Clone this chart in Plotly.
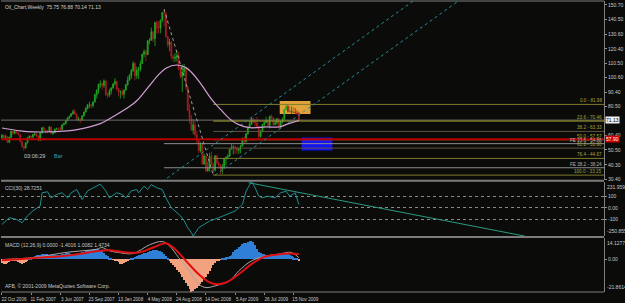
import plotly.graph_objects as go
import pandas as pd

# ---------------- data ----------------
start_week = "2006-10-22"

opens = [58.90, 60.75, 59.14, 59.61, 55.81, 59.24, 63.43, 62.03, 63.43, 62.41,
         61.05, 56.31, 52.99, 51.99, 55.42, 59.02, 59.89, 59.39, 61.14, 61.64,
         60.05, 57.11, 62.28, 65.87, 64.28, 63.63, 63.38, 66.46, 61.93, 62.37,
         64.94, 65.20, 65.08, 64.76, 68.00, 68.62, 70.68, 72.81, 73.93, 75.57,
         77.02, 75.48, 71.47, 71.98, 71.09, 74.04, 76.70, 79.10, 81.62, 81.66,
         81.22, 83.69, 88.60, 91.86, 95.93, 96.32, 95.10, 98.18, 88.71, 88.28,
         91.27, 93.31, 96.00, 97.91, 92.69, 90.57, 90.71, 88.96, 91.77, 95.50,
         98.81, 101.84, 105.15, 110.21, 101.84, 105.62, 106.23, 110.14, 116.69, 118.52,
         116.32, 125.96, 126.29, 132.19, 127.35, 138.54, 134.86, 134.62, 140.21, 145.29,
         145.08, 128.88, 123.26, 125.10, 115.20, 113.77, 114.59, 115.46, 106.23, 101.18,
         104.55, 106.89, 93.88, 77.70, 71.85, 64.15, 67.81, 61.04, 57.04, 49.93,
         54.43, 40.81, 46.28, 36.20, 37.71, 46.34, 40.83, 36.51, 46.47, 41.68,
         40.17, 37.51, 38.94, 44.76, 45.52, 46.25, 51.06, 52.38, 52.51, 52.24,
         50.33, 51.55, 53.20, 58.63, 56.34, 61.67, 66.31, 68.44, 72.04, 69.55,
         69.16, 66.73, 59.89, 63.56, 68.05, 69.45, 70.93, 67.51, 73.89, 72.74,
         68.02, 69.29, 72.04, 66.02, 69.95, 71.77, 78.53, 80.50, 77.00, 77.43,
         76.35, 76.72, 76.05, 75.75]
highs = [61.50, 61.20, 61.00, 60.20, 59.80, 63.90, 63.50, 64.00, 63.80, 62.80,
         61.30, 56.80, 53.30, 55.90, 59.30, 60.80, 60.50, 61.50, 62.30, 62.30,
         60.60, 62.70, 66.40, 66.70, 64.60, 64.30, 66.80, 66.60, 62.90, 65.20,
         66.00, 66.00, 66.30, 68.20, 69.50, 70.90, 73.00, 74.20, 75.90, 78.40,
         78.80, 75.60, 73.50, 72.30, 74.60, 77.00, 80.20, 82.40, 83.90, 82.40,
         84.10, 89.50, 92.20, 96.20, 98.60, 96.60, 99.30, 98.60, 90.30, 92.70,
         93.90, 96.70, 100.10, 98.30, 93.40, 91.60, 92.80, 92.40, 96.20, 101.30,
         103.00, 106.50, 111.80, 111.10, 108.00, 107.90, 112.20, 117.00, 119.90, 119.90,
         126.20, 127.80, 135.10, 132.40, 139.10, 139.90, 139.50, 140.40, 145.90, 147.70,
         145.10, 128.90, 127.40, 125.70, 116.40, 117.50, 119.00, 118.10, 107.80, 109.50,
         110.00, 107.00, 94.40, 82.00, 74.60, 71.80, 71.10, 63.70, 58.30, 55.80,
         55.50, 48.00, 47.00, 42.40, 48.60, 49.30, 41.50, 46.90, 47.40, 42.50,
         40.40, 40.90, 45.00, 46.00, 47.60, 51.50, 54.60, 54.00, 53.60, 52.80,
         51.60, 54.00, 58.90, 59.80, 62.20, 66.50, 70.30, 73.20, 72.80, 71.70,
         73.40, 66.90, 64.20, 68.30, 70.20, 73.40, 71.80, 74.00, 75.00, 73.00,
         71.90, 72.70, 72.20, 70.60, 72.90, 78.80, 81.98, 81.60, 80.80, 80.50,
         80.00, 79.50, 78.00, 76.88]
lows = [57.90, 57.80, 57.90, 55.40, 55.20, 58.80, 61.00, 61.30, 61.70, 60.60,
        55.80, 52.00, 50.00, 51.40, 55.00, 58.40, 57.70, 58.80, 60.30, 59.50,
        56.60, 56.90, 61.80, 63.40, 61.80, 62.20, 63.00, 61.60, 61.00, 62.10,
        64.20, 63.90, 64.20, 64.10, 67.40, 68.20, 70.40, 71.90, 73.30, 74.80,
        74.90, 70.80, 70.60, 69.00, 70.60, 73.60, 76.30, 78.50, 79.30, 79.40,
        79.80, 83.40, 86.00, 89.30, 93.50, 92.20, 93.40, 87.80, 86.20, 87.20,
        88.90, 92.80, 95.10, 91.70, 87.50, 86.10, 88.00, 86.10, 91.50, 94.90,
        98.20, 99.50, 104.60, 98.70, 99.60, 99.60, 104.70, 110.00, 114.40, 111.80,
        116.00, 123.40, 126.00, 125.00, 122.20, 131.00, 130.80, 131.10, 138.70, 135.90,
        127.90, 121.50, 118.70, 113.00, 111.30, 111.30, 111.50, 105.50, 99.90, 90.50,
        101.50, 92.00, 77.40, 68.60, 63.90, 61.30, 59.40, 54.70, 48.30, 48.80,
        40.50, 40.30, 35.10, 35.40, 35.60, 40.00, 33.15, 35.70, 40.70, 37.90,
        33.60, 34.00, 37.50, 40.10, 44.00, 45.70, 50.80, 47.50, 47.80, 47.80,
        47.80, 48.30, 53.10, 55.30, 55.60, 61.20, 65.80, 67.80, 69.20, 66.70,
        66.50, 58.30, 59.10, 62.50, 66.50, 69.30, 67.30, 65.40, 71.50, 67.10,
        67.60, 68.10, 65.20, 65.10, 68.80, 71.40, 78.10, 76.30, 76.30, 75.30,
        75.80, 75.90, 74.90, 70.14]
closes = [60.75, 59.14, 59.61, 55.81, 59.24, 63.43, 62.03, 63.43, 62.41, 61.05,
          56.31, 52.99, 51.99, 55.42, 59.02, 59.89, 59.39, 61.14, 61.64, 60.05,
          57.11, 62.28, 65.87, 64.28, 63.63, 63.38, 66.46, 61.93, 62.37, 64.94,
          65.20, 65.08, 64.76, 68.00, 68.62, 70.68, 72.81, 73.93, 75.57, 77.02,
          75.48, 71.47, 71.98, 71.09, 74.04, 76.70, 79.10, 81.62, 81.66, 81.22,
          83.69, 88.60, 91.86, 95.93, 96.32, 95.10, 98.18, 88.71, 88.28, 91.27,
          93.31, 96.00, 97.91, 92.69, 90.57, 90.71, 88.96, 91.77, 95.50, 98.81,
          101.84, 105.15, 110.21, 101.84, 105.62, 106.23, 110.14, 116.69, 118.52, 116.32,
          125.96, 126.29, 132.19, 127.35, 138.54, 134.86, 134.62, 140.21, 145.29, 145.08,
          128.88, 123.26, 125.10, 115.20, 113.77, 114.59, 115.46, 106.23, 101.18, 104.55,
          106.89, 93.88, 77.70, 71.85, 64.15, 67.81, 61.04, 57.04, 49.93, 54.43,
          40.81, 46.28, 36.20, 37.71, 46.34, 40.83, 36.51, 46.47, 41.68, 40.17,
          37.51, 38.94, 44.76, 45.52, 46.25, 51.06, 52.38, 52.51, 52.24, 50.33,
          51.55, 53.20, 58.63, 56.34, 61.67, 66.31, 68.44, 72.04, 69.55, 69.16,
          66.73, 59.89, 63.56, 68.05, 69.45, 70.93, 67.51, 73.89, 72.74, 68.02,
          69.29, 72.04, 66.02, 69.95, 71.77, 78.53, 80.50, 77.00, 77.43, 76.35,
          76.72, 76.05, 75.47, 71.13]

# moving average (week index -> price)
ma_weeks = [0, 10, 17, 36, 44, 54, 63, 70, 74, 81, 86, 90, 96, 101, 104, 108,
            112, 116, 120, 125, 130, 136, 145, 152, 157, 163]
ma_values = [65.7, 63.7, 63.0, 63.7, 65.3, 68.7, 75.0, 80.5, 84.5, 95.0, 102.5, 107.0,
             109.2, 107.4, 104.2, 98.3, 91.0, 84.0, 78.5, 72.0, 68.0, 65.9, 66.4,
             66.4, 68.5, 70.9]

# CCI(30)
cci_weeks = [0, 4, 8, 11, 14, 17, 21, 22, 25, 27, 30, 33, 36, 38, 41, 44, 47, 54, 57,
             59, 63, 66, 68, 71, 74, 75, 78, 80, 82, 85, 88, 90, 93, 98, 100, 102, 104,
             105, 108, 114, 119, 125, 128, 132, 134, 137, 139, 141, 143, 146, 150, 153,
             156, 158, 161, 163]
cci_values = [-148, -88, -103, -133, -71, -27, 18, 133, 142, 88, 118, 133, 88, 133, 162,
              73, 150, 210, 150, 88, 133, 118, 88, 150, 162, 133, 192, 162, 206, 177,
              162, 88, 0, -71, -115, -177, -221, -250.855, -177, -118, -88, -44, -29,
              29, 147, 231.959, 177, 103, 88, 103, 88, 133, 147, 103, 133, 28.73]
cci_trend_weeks = [135.5, 287.0]
cci_trend_values = [222.0, -250.855]

# MACD histogram (one value per week)
macd_hist = [-2.5, -3.0, -3.3, -2.8, -2.0,
             -1.5, -1.0, -1.2, -1.5,
             -2.0, -2.5, -3.0, -2.6, -1.8, -0.8,
             0.3, 0.8,
             1.5, 2.0, 2.5, 2.8, 3.0, 3.2, 3.3, 3.4, 3.3, 3.0, 2.8, 2.6, 2.5,
             2.6, 2.8, 3.0, 3.3, 3.6, 3.8, 4.0, 3.8, 3.6, 3.4, 3.2,
             3.5, 3.8, 4.2, 4.6,
             5.0, 5.4, 5.8, 6.0, 6.3, 6.5, 6.6, 6.7, 6.5, 6.0, 5.2,
             4.2, 3.0, 2.0,
             1.0, 0.3, -0.5, -1.0,
             -1.5, -2.2, -3.0, -3.3, -2.8, -2.0, -1.0,
             -0.3, 0.5, 1.0,
             1.5, 2.0, 2.5, 3.0, 3.5, 4.0, 4.4, 4.8, 5.2, 5.5, 5.8, 6.0, 6.0, 5.7, 5.2, 4.5, 3.5, 2.0,
             0.5, -1.0,
             -2.5, -4.0, -5.5, -7.0, -8.5, -10.0, -12.0, -14.0, -16.0, -18.0, -20.0, -21.86,
             -21.0, -20.0, -19.0, -18.0, -16.5, -15.0, -13.5, -12.0, -10.0, -8.0, -6.0, -4.0,
             -2.5, -1.5, -0.8, -0.5, 0.3,
             0.8, 1.2, 1.5, 2.0, 3.0,
             4.5, 6.0, 7.0, 8.0, 9.0, 9.8, 10.5, 11.0, 11.5, 12.0, 12.4, 11.5, 9.5, 7.0,
             5.0, 4.0, 3.5, 3.2, 3.0, 2.8, 2.6, 2.8, 3.0, 3.2, 3.0, 2.8, 3.0, 3.4, 3.8, 4.0,
             3.6, 3.0, 2.2, 1.2, 0.6, 0.2,
             -1.4]
macd_weeks = [0, 17, 35, 52, 55, 59, 64, 72, 81, 88, 92, 97, 103, 108, 112, 117, 125,
              130, 137, 145, 152, 159, 163]
macd_values = [-0.2, 1.1, 4.5, 6.7, 7.8, 5.6, 4.5, 3.8, 9.6, 11.8, 8.9, 1.1, -7.8, -16.6,
               -18.9, -17.8, -14.4, -7.8, -1.1, 2.2, 3.4, 4.5, 1.0]
signal_weeks = [0, 17, 35, 54, 59, 68, 75, 83, 90, 94, 101, 108, 114, 117, 123, 130, 137,
                143, 150, 159, 163]
signal_values = [-0.6, 0.7, 2.3, 5.6, 6.0, 4.5, 4.5, 7.8, 10.7, 7.8, -1.1, -10.0, -15.5,
                 -16.6, -15.5, -10.0, -3.3, 1.1, 2.9, 3.8, 3.4]

# drawing objects
fib_labels = ["0.0 - 81.98", "23.6 - 70.46", "38.2 - 63.33", "50.0 - 57.57",
              "61.8 - 51.80", "76.4 - 44.67", "100.0 - 33.15"]
fib_prices = [81.98, 70.46, 63.33, 57.57, 51.80, 44.67, 33.15]
fib_colors = ["#7e7a2c", "#9c9a24", "#5e5444", "#8a7a2a", "#5e5444", "#7e7a2c", "#7e7a2c"]
fib_start = 116
fe_labels = ["FE 23.6 - 54.88", "FE 38.2 - 38.24"]
fe_prices = [54.88, 38.24]
fe_start = 89
fe_anchor_weeks = [89, 116]
fe_anchor_prices = [147.7, 33.15]
channel_a_weeks = [88.0, 232.0]
channel_a_prices = [28.66, 159.0]
channel_b_weeks = [117.0, 262.0]
channel_b_prices = [33.15, 163.65]
bid_price = 71.13
red_level = 57.90
zone_orange = dict(weeks=[152.5, 169.4], prices=[75.3, 84.4])
zone_blue = dict(weeks=[164.5, 181.4], prices=[50.2, 59.1])

date_tick_weeks = [0, 16, 32, 48, 64, 80, 96, 112, 128, 144, 160]
date_tick_text = ["22 Oct 2006", "11 Feb 2007", "3 Jun 2007", "23 Sep 2007", "13 Jan 2008",
                  "4 May 2008", "24 Aug 2008", "14 Dec 2008", "5 Apr 2009", "26 Jul 2009",
                  "15 Nov 2009"]
price_ticks = [150.70, 140.50, 130.60, 120.40, 110.50, 100.60, 90.40, 80.50, 60.40, 50.50,
               40.30, 30.40]

# ---------------- figure ----------------
BG = "#0b0c0a"
GRID = "#8a8a8a"
FONT = "Liberation Sans, Arial, sans-serif"
t0 = pd.Timestamp(start_week)


def wk(w):
    return t0 + pd.Timedelta(days=7 * w)


n = len(closes)
dates = [wk(i) for i in range(n)]
xmin = wk(-0.546)
xmax = wk(-0.546 + 331.1)

fig = go.Figure()

# zones (drawn below)
fig.add_shape(type="rect", xref="x", yref="y", layer="below",
              x0=wk(zone_orange["weeks"][0]), x1=wk(zone_orange["weeks"][1]),
              y0=zone_orange["prices"][0], y1=zone_orange["prices"][1],
              fillcolor="#e3a33c", line=dict(width=0))
fig.add_shape(type="rect", xref="x", yref="y", layer="below",
              x0=wk(zone_blue["weeks"][0]), x1=wk(zone_blue["weeks"][1]),
              y0=zone_blue["prices"][0], y1=zone_blue["prices"][1],
              fillcolor="#1414f0", line=dict(width=0))

# horizontal levels
fig.add_trace(go.Scatter(x=[xmin, xmax], y=[bid_price, bid_price], mode="lines",
                         line=dict(color="#707070", width=1), yaxis="y", hoverinfo="skip"))
for lab, p, c in zip(fib_labels, fib_prices, fib_colors):
    fig.add_trace(go.Scatter(x=[wk(fib_start), xmax], y=[p, p], mode="lines",
                             line=dict(color=c, width=1), hoverinfo="skip"))
    fig.add_annotation(x=1, xref="paper", y=p, yref="y", text=lab, showarrow=False,
                       xanchor="right", yanchor="bottom", yshift=-1,
                       font=dict(size=4.6, color="#a5a33a", family=FONT))
for lab, p in zip(fe_labels, fe_prices):
    fig.add_trace(go.Scatter(x=[wk(fe_start), xmax], y=[p, p], mode="lines",
                             line=dict(color="#8c8c8c", width=1), hoverinfo="skip"))
    fig.add_annotation(x=1, xref="paper", y=p, yref="y", text=lab, showarrow=False,
                       xanchor="right", yanchor="bottom", yshift=-1,
                       font=dict(size=4.6, color="#b4b4b4", family=FONT))
fig.add_trace(go.Scatter(x=[xmin, xmax], y=[red_level, red_level], mode="lines",
                         line=dict(color="#b80000", width=2), hoverinfo="skip"))

# trend / channel lines
fig.add_trace(go.Scatter(x=[wk(w) for w in fe_anchor_weeks], y=fe_anchor_prices,
                         mode="lines", line=dict(color="#a0a0a0", width=1, dash="dot"),
                         hoverinfo="skip"))
fig.add_trace(go.Scatter(x=[wk(w) for w in channel_a_weeks], y=channel_a_prices,
                         mode="lines", line=dict(color="#2a8a98", width=1, dash="dot"),
                         hoverinfo="skip"))
fig.add_trace(go.Scatter(x=[wk(w) for w in channel_b_weeks], y=channel_b_prices,
                         mode="lines", line=dict(color="#2a8a98", width=1, dash="dot"),
                         hoverinfo="skip"))

# price
fig.add_trace(go.Candlestick(x=dates, open=opens, high=highs, low=lows, close=closes,
                             increasing=dict(line=dict(color="#22aa22", width=0.8),
                                             fillcolor="#22aa22"),
                             decreasing=dict(line=dict(color="#a82020", width=0.8),
                                             fillcolor="#a82020"),
                             whiskerwidth=0, yaxis="y", hoverinfo="skip"))
fig.add_trace(go.Scatter(x=[wk(w) for w in ma_weeks], y=ma_values, mode="lines",
                         line=dict(color="#d29ed4", width=1.2, shape="spline"),
                         hoverinfo="skip"))

# CCI
fig.add_trace(go.Scatter(x=[wk(w) for w in cci_weeks], y=cci_values, mode="lines",
                         line=dict(color="#1f8f8f", width=1), yaxis="y2", hoverinfo="skip"))
fig.add_trace(go.Scatter(x=[wk(w) for w in cci_trend_weeks], y=cci_trend_values,
                         mode="lines", line=dict(color="#2a9a80", width=1),
                         yaxis="y2", hoverinfo="skip"))

# MACD
hist_colors = ["#2f7fd6" if v >= 0 else "#f2a27e" for v in macd_hist]
fig.add_trace(go.Bar(x=dates, y=macd_hist, marker=dict(color=hist_colors, line=dict(width=0)),
                     width=0.5 * 7 * 86400000, yaxis="y3", hoverinfo="skip"))
fig.add_trace(go.Scatter(x=[wk(w) for w in macd_weeks], y=macd_values, mode="lines",
                         line=dict(color="#a8a8a8", width=1, shape="spline"),
                         yaxis="y3", hoverinfo="skip"))
fig.add_trace(go.Scatter(x=[wk(w) for w in signal_weeks], y=signal_values, mode="lines",
                         line=dict(color="#e01010", width=2, shape="spline"),
                         yaxis="y3", hoverinfo="skip"))

tickfont = dict(size=5, color="#c8c8c8", family=FONT)
common_y = dict(side="right", anchor="x", showgrid=False, zeroline=False,
                ticks="outside", ticklen=2, tickcolor="#909090", tickfont=tickfont,
                showline=True, linecolor="#808080", linewidth=1, fixedrange=True)

fig.update_layout(
    width=625, height=303, margin=dict(l=1, r=18, t=1, b=8),
    paper_bgcolor=BG, plot_bgcolor=BG, showlegend=False,
    font=dict(family=FONT, size=5, color="#c8c8c8"),
    bargap=0,
    xaxis=dict(type="date", range=[xmin, xmax], anchor="y3", domain=[0, 1],
               rangeslider=dict(visible=False), showgrid=False, zeroline=False,
               tickvals=[wk(w) for w in date_tick_weeks], ticktext=date_tick_text,
               ticks="outside", ticklen=2, tickcolor="#909090",
               tickfont=dict(size=4.6, color="#c8c8c8", family=FONT),
               ticklabelshift=12, showline=False),
    yaxis=dict(domain=[0.386, 1.0], range=[30.0, 153.4],
               tickvals=price_ticks, ticktext=[f"{v:.2f}" for v in price_ticks], **common_y),
    yaxis2=dict(domain=[0.1922, 0.3793], range=[-250.855, 231.959],
                tickvals=[100, 0, -100], ticktext=["100", "0.00", "-100"],
                **{**common_y, "showgrid": True}, gridcolor=GRID, griddash="dot", gridwidth=1),
    yaxis3=dict(domain=[0.0, 0.1854], range=[-21.8614, 14.1277],
                tickvals=[0], ticktext=["0.00"], **common_y),
)

# frame and separators
for yv, w in [(1.0, 1), (0.3827, 2), (0.1888, 2), (0.0, 1)]:
    fig.add_shape(type="line", xref="paper", yref="paper", x0=0, x1=1, y0=yv, y1=yv,
                  line=dict(color="#7c7c7c", width=w))

# axis range labels for indicator panels
for txt, yref, yv, ya in [("231.959", "y2 domain", 1, "top"), ("-250.855", "y2 domain", 0, "bottom"),
                          ("14.1277", "y3 domain", 1, "top"), ("-21.8614", "y3 domain", 0, "bottom")]:
    fig.add_annotation(x=1, xref="paper", y=yv, yref=yref, text=txt, showarrow=False,
                       xanchor="left", yanchor=ya, xshift=1,
                       font=dict(size=5, color="#c8c8c8", family=FONT))

# current price and red level tags
fig.add_annotation(x=1, xref="paper", y=bid_price, yref="y", text="71.13", showarrow=False,
                   xanchor="left", xshift=1, bgcolor="#f0f0f0", borderpad=0,
                   font=dict(size=5, color="#000000", family=FONT))
fig.add_annotation(x=1, xref="paper", y=red_level, yref="y", text=f"{red_level:.2f}",
                   showarrow=False, xanchor="left", xshift=1, bgcolor="#d00000", borderpad=0,
                   font=dict(size=5, color="#ffffff", family=FONT))

# texts
fig.add_annotation(x=0, xref="paper", y=1, yref="paper", text="Oil_Chart,Weekly  75.75 76.88 70.14 71.13",
                   showarrow=False, xanchor="left", yanchor="top", xshift=2, yshift=-1,
                   font=dict(size=5, color="#d0d0d0", family=FONT))
fig.add_annotation(x=0.0347, xref="paper", y=0.469, yref="paper", text="03:06:29",
                   showarrow=False, xanchor="left", yanchor="middle",
                   font=dict(size=5.5, color="#c8c8c8", family=FONT))
fig.add_annotation(x=0.084, xref="paper", y=0.469, yref="paper", text="Bar",
                   showarrow=False, xanchor="left", yanchor="middle",
                   font=dict(size=5.5, color="#2aa4b4", family=FONT))
fig.add_annotation(x=0, xref="paper", y=1, yref="y2 domain", text="CCI(30) 28.7251",
                   showarrow=False, xanchor="left", yanchor="top", xshift=2, yshift=-1,
                   font=dict(size=5, color="#c8c8c8", family=FONT))
fig.add_annotation(x=0, xref="paper", y=1, yref="y3 domain",
                   text="MACD (12,26,9) 0.0000 -1.4016 1.0082 1.4734",
                   showarrow=False, xanchor="left", yanchor="top", xshift=2, yshift=-2,
                   font=dict(size=5, color="#c8c8c8", family=FONT))
fig.add_annotation(x=0, xref="paper", y=0, yref="y3 domain",
                   text="AFB, © 2001-2009 MetaQuotes Software Corp.",
                   showarrow=False, xanchor="left", yanchor="bottom", xshift=2, yshift=1,
                   font=dict(size=5, color="#c8c8c8", family=FONT))

fig.write_html("out.html")
